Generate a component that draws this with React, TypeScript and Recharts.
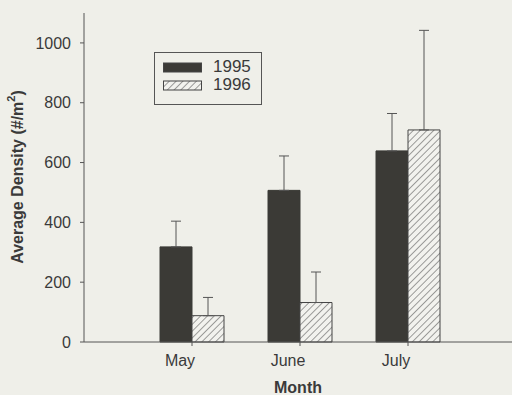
import React from 'react';
import { BarChart, Bar, XAxis, YAxis, ErrorBar } from 'recharts';

const months = ['May', 'June', 'July'];
const density1995 = [318, 507, 639];
const err1995 = [86, 115, 125];
const density1996 = [88, 132, 709];
const err1996 = [61, 102, 333];
const yTicks = [0, 200, 400, 600, 800, 1000];
const legendYears = ['1995', '1996'];

const data = months.map((m, i) => ({
  month: m,
  y1995: density1995[i],
  e1995: [0, err1995[i]],
  y1996: density1996[i],
  e1996: [0, err1996[i]],
}));

const ink = '#3a3a3a';
const font = '"Liberation Sans", Arial, sans-serif';

function MonthTick(props: any) {
  const { x, y, payload } = props;
  return (
    <text x={x - 12} y={y + 18} textAnchor="middle" fontSize={16} fill={ink} fontFamily={font}>
      {payload.value}
    </text>
  );
}

function YLabel() {
  return (
    <text
      x={17}
      y={177}
      transform="rotate(-90 17 177)"
      textAnchor="middle"
      dominantBaseline="central"
      fontSize={16}
      fontWeight="bold"
      fill={ink}
      fontFamily={font}
    >
      Average Density (#/m
      <tspan fontSize={11} dy={-6}>2</tspan>
      <tspan dy={6}>)</tspan>
    </text>
  );
}

function LegendBox() {
  const row = (year: string, hatched: boolean) => (
    <div key={year} style={{ display: 'flex', alignItems: 'center', height: 18 }}>
      <svg width={40} height={11} style={{ marginLeft: 8 }}>
        <defs>
          <pattern id="hatchLeg" patternUnits="userSpaceOnUse" width={4.8} height={4.8} patternTransform="rotate(45)">
            <rect width={4.8} height={4.8} fill="#f2f2ee" />
            <line x1={0} y1={0} x2={0} y2={4.8} stroke="#444" strokeWidth={1} />
          </pattern>
        </defs>
        <rect x={0.5} y={1} width={38} height={9} fill={hatched ? 'url(#hatchLeg)' : '#3b3a36'} stroke="#444" strokeWidth={1} />
      </svg>
      <span style={{ marginLeft: 10, fontSize: 17, lineHeight: '18px', color: ink, fontFamily: font }}>{year}</span>
    </div>
  );
  return (
    <div
      style={{
        position: 'absolute',
        left: 154,
        top: 52,
        border: '1px solid #555',
        width: 108,
        height: 53,
        boxSizing: 'border-box',
        paddingTop: 5,
      }}
    >
      {legendYears.map((y, i) => row(y, i === 1))}
    </div>
  );
}

export default function App() {
  return (
    <div style={{ position: 'relative', width: 512, height: 395, background: '#efefe9' }}>
      <style>{'body{margin:0}'}</style>
      <BarChart
        width={512}
        height={395}
        data={data}
        margin={{ top: 13, right: 0, bottom: 0, left: 0 }}
        barGap={0}
        barSize={32}
      >
        <defs>
          <pattern id="hatch" patternUnits="userSpaceOnUse" width={4.8} height={4.8} patternTransform="rotate(45)">
            <rect width={4.8} height={4.8} fill="#f2f2ee" />
            <line x1={0} y1={0} x2={0} y2={4.8} stroke="#444" strokeWidth={1} />
          </pattern>
        </defs>
        <XAxis
          dataKey="month"
          height={53}
          padding={{ left: 54, right: 50 }}
          tick={<MonthTick />}
          tickSize={4}
          axisLine={{ stroke: '#555' }}
          tickLine={{ stroke: '#555' }}
          label={{ value: 'Month', position: 'insideBottom', offset: 2, fontSize: 16, fontWeight: 'bold', fill: ink, fontFamily: font }}
        />
        <YAxis
          width={84}
          domain={[0, 1100]}
          ticks={yTicks}
          tickSize={4}
          tickMargin={9}
          axisLine={{ stroke: '#555' }}
          tickLine={{ stroke: '#555' }}
          tick={{ fontSize: 16, fill: ink, fontFamily: font }}
          label={<YLabel />}
        />
        <Bar dataKey="y1995" fill="#3b3a36" stroke="#3b3a36" isAnimationActive={false}>
          <ErrorBar dataKey="e1995" width={5} stroke="#555" strokeWidth={1} direction="y" />
        </Bar>
        <Bar dataKey="y1996" fill="url(#hatch)" stroke="#444" strokeWidth={1} isAnimationActive={false}>
          <ErrorBar dataKey="e1996" width={5} stroke="#555" strokeWidth={1} direction="y" />
        </Bar>
      </BarChart>
      <LegendBox />
    </div>
  );
}
